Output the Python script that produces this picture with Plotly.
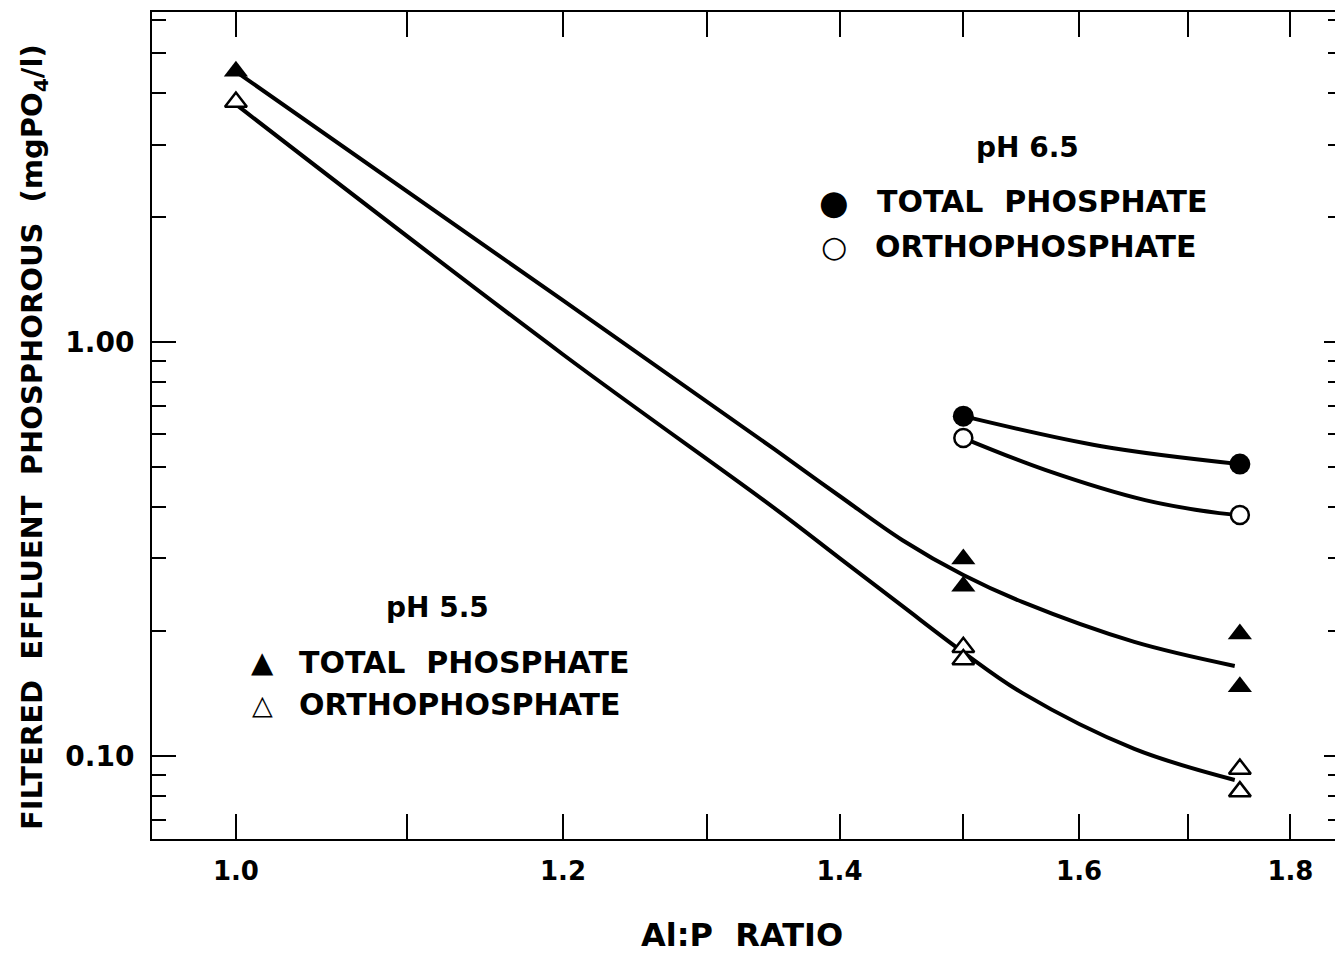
import math
import plotly.graph_objects as go

# ---- data ----
ratio_pts = [1.0, 1.5, 1.5, 1.75, 1.75]
tp55_pts = [4.51, 0.299, 0.257, 0.197, 0.147]
op55_pts = [3.80, 0.183, 0.171, 0.093, 0.082]

ratio65 = [1.5, 1.75]
tp65 = [0.662, 0.507]
op65 = [0.586, 0.382]

# fitted curves
tp55_curve_x = [1.00, 1.20, 1.35, 1.40, 1.45, 1.50, 1.55, 1.65, 1.745]
tp55_curve_y = [4.50, 1.26, 0.551, 0.4246, 0.332, 0.2735, 0.2355, 0.1886, 0.165]
op55_curve_x = [1.00, 1.20, 1.35, 1.40, 1.45, 1.50, 1.55, 1.65, 1.745]
op55_curve_y = [3.75, 0.933, 0.397, 0.3006, 0.230, 0.178, 0.142, 0.104, 0.0875]
tp65_curve_x = [1.50, 1.62, 1.75]
tp65_curve_y = [0.662, 0.560, 0.507]
op65_curve_x = [1.50, 1.57, 1.66, 1.73, 1.75]
op65_curve_y = [0.586, 0.491, 0.415, 0.386, 0.382]

# ---- ticks ----
x_major = [1.0, 1.2, 1.4, 1.6, 1.8]
x_labels = ["1.0", "1.2", "1.4", "1.6", "1.8"]
x_minor = [1.1, 1.3, 1.5, 1.7]
y_major = [0.1, 1.0]
y_labels = ["0.10", "1.00"]
y_minor = [0.07, 0.08, 0.09, 0.2, 0.3, 0.4, 0.5, 0.6, 0.7, 0.8, 0.9, 2, 3, 4, 5, 6]

x_range = [math.log10(0.9543), math.log10(1.8453)]
y_range = [math.log10(0.063), math.log10(6.27)]

FONT = "DejaVu Sans"
BLACK = "#000000"

fig = go.Figure()

line_style = dict(color=BLACK, width=4, shape="spline", smoothing=1.0)
for cx, cy, ax in [(tp55_curve_x, tp55_curve_y, "y"), (op55_curve_x, op55_curve_y, "y"),
                   (tp65_curve_x, tp65_curve_y, "y2"), (op65_curve_x, op65_curve_y, "y2")]:
    fig.add_trace(go.Scatter(x=cx, y=cy, mode="lines", line=line_style,
                             yaxis=ax, showlegend=False, hoverinfo="skip"))

fig.add_trace(go.Scatter(x=ratio_pts, y=tp55_pts, mode="markers", showlegend=False,
                         marker=dict(symbol="triangle-up", size=21, color=BLACK,
                                     line=dict(width=0))))
fig.add_trace(go.Scatter(x=ratio_pts, y=op55_pts, mode="markers", showlegend=False,
                         marker=dict(symbol="triangle-up", size=19, color="white",
                                     line=dict(width=2.5, color=BLACK))))
fig.add_trace(go.Scatter(x=ratio65, y=tp65, mode="markers", showlegend=False, yaxis="y2",
                         marker=dict(symbol="circle", size=21, color=BLACK,
                                     line=dict(width=0))))
fig.add_trace(go.Scatter(x=ratio65, y=op65, mode="markers", showlegend=False, yaxis="y2",
                         marker=dict(symbol="circle", size=18, color="white",
                                     line=dict(width=2.5, color=BLACK))))

axis_common = dict(type="log", showgrid=False, zeroline=False, ticks="inside",
                   tickwidth=2, tickcolor=BLACK, linecolor=BLACK, linewidth=2)

fig.update_layout(
    width=1335, height=955,
    margin=dict(l=152, r=0, t=12, b=116),
    paper_bgcolor="white", plot_bgcolor="white",
    font=dict(family=FONT, color=BLACK, weight="bold"),
    showlegend=False,
    xaxis=dict(**axis_common, range=x_range, showline=True, mirror="allticks",
               ticklen=25, tickvals=x_major, ticktext=x_labels,
               tickfont=dict(size=26, family=FONT, weight="bold"),
               ticklabelstandoff=8,
               minor=dict(tickvals=x_minor, ticklen=14, tickwidth=2,
                          tickcolor=BLACK, ticks="inside")),
    yaxis=dict(**axis_common, range=y_range, showline=True, mirror=False,
               ticklen=24, tickvals=y_major, ticktext=y_labels,
               tickfont=dict(size=28, family=FONT, weight="bold"),
               ticklabelstandoff=10,
               minor=dict(tickvals=y_minor, ticklen=14, tickwidth=2,
                          tickcolor=BLACK, ticks="inside")),
    yaxis2=dict(**axis_common, range=y_range, overlaying="y", side="right",
                anchor="x", showline=False, showticklabels=False,
                ticklen=11, tickvals=y_major,
                minor=dict(tickvals=y_minor, ticklen=7, tickwidth=2,
                           tickcolor=BLACK, ticks="inside")),
)

W, H = 1183.0, 827.0


def px(xp):
    return (xp - 152) / W


def py(yp):
    return (839 - yp) / H


ann = []
txt = dict(size=30, family=FONT, color=BLACK, weight="bold")
ann.append(dict(text="Al:P  RATIO", x=px(742), y=py(935), xref="paper", yref="paper",
                showarrow=False, xanchor="center", yanchor="middle",
                font=dict(size=32, family=FONT, color=BLACK, weight="bold")))
ann.append(dict(text="FILTERED  EFFLUENT  PHOSPHOROUS  (mgPO<sub>4</sub>/l)",
                x=px(34), y=py(437), xref="paper", yref="paper", textangle=-90,
                showarrow=False, xanchor="center", yanchor="middle",
                font=dict(size=29, family=FONT, color=BLACK, weight="bold")))
ann.append(dict(text="pH 6.5", x=px(1027), y=py(147), xref="paper", yref="paper",
                showarrow=False, xanchor="center", yanchor="middle",
                font=dict(size=28, family=FONT, color=BLACK, weight="bold")))
ann.append(dict(text="●", x=px(834), y=py(202), xref="paper", yref="paper",
                showarrow=False, xanchor="center", yanchor="middle",
                font=dict(size=34, family=FONT, color=BLACK)))
ann.append(dict(text="TOTAL  PHOSPHATE", x=px(875), y=py(202), xref="paper", yref="paper",
                showarrow=False, xanchor="left", yanchor="middle", font=txt))
ann.append(dict(text="○", x=px(834), y=py(246), xref="paper", yref="paper",
                showarrow=False, xanchor="center", yanchor="middle",
                font=dict(size=30, family=FONT, color=BLACK, weight="bold")))
ann.append(dict(text="ORTHOPHOSPHATE", x=px(873), y=py(246), xref="paper", yref="paper",
                showarrow=False, xanchor="left", yanchor="middle", font=txt))
ann.append(dict(text="pH 5.5", x=px(437), y=py(607), xref="paper", yref="paper",
                showarrow=False, xanchor="center", yanchor="middle",
                font=dict(size=28, family=FONT, color=BLACK, weight="bold")))
ann.append(dict(text="▲", x=px(262), y=py(662), xref="paper", yref="paper",
                showarrow=False, xanchor="center", yanchor="middle",
                font=dict(size=29, family=FONT, color=BLACK)))
ann.append(dict(text="TOTAL  PHOSPHATE", x=px(297), y=py(662), xref="paper", yref="paper",
                showarrow=False, xanchor="left", yanchor="middle", font=txt))
ann.append(dict(text="△", x=px(262), y=py(704), xref="paper", yref="paper",
                showarrow=False, xanchor="center", yanchor="middle",
                font=dict(size=27, family=FONT, color=BLACK, weight="bold")))
ann.append(dict(text="ORTHOPHOSPHATE", x=px(297), y=py(704), xref="paper", yref="paper",
                showarrow=False, xanchor="left", yanchor="middle", font=txt))
fig.update_layout(annotations=ann)

fig.write_html("out.html")
